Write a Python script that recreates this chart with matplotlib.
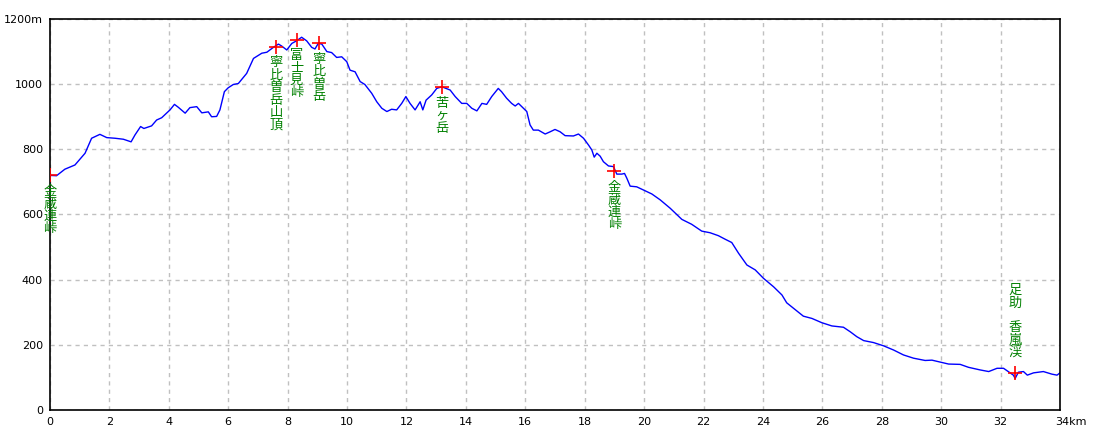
import matplotlib
matplotlib.use('Agg')
import matplotlib.pyplot as plt
from matplotlib.transforms import ScaledTranslation

plt.rcParams['font.family'] = ['Noto Sans CJK JP', 'DejaVu Sans']

# route profile (distance km, elevation m)
dist_km = [0.0, 0.22, 0.5, 0.84, 1.18, 1.4, 1.68, 1.91, 2.19, 2.47, 2.73, 2.86, 3.05, 3.16, 3.42,
           3.59, 3.76, 4.04, 4.19, 4.32, 4.55, 4.71, 4.94, 5.11, 5.33, 5.44, 5.61, 5.72, 5.87, 6.0,
           6.17, 6.34, 6.62, 6.85, 7.13, 7.3, 7.52, 7.69, 7.8, 7.97, 8.14, 8.3, 8.47, 8.64, 8.81,
           8.92, 9.03, 9.15, 9.32, 9.48, 9.65, 9.82, 9.99, 10.1, 10.27, 10.44, 10.6, 10.83, 11.0,
           11.17, 11.34, 11.5, 11.67, 11.84, 11.98, 12.12, 12.29, 12.46, 12.55, 12.66, 12.85, 13.02,
           13.19, 13.47, 13.64, 13.86, 14.03, 14.2, 14.37, 14.54, 14.7, 14.87, 15.09, 15.2, 15.37,
           15.54, 15.66, 15.77, 15.94, 16.05, 16.16, 16.27, 16.44, 16.67, 16.84, 17.0, 17.17, 17.34,
           17.62, 17.79, 17.96, 18.13, 18.24, 18.32, 18.41, 18.52, 18.63, 18.8, 18.97, 19.08, 19.25,
           19.34, 19.42, 19.53, 19.75, 19.98, 20.26, 20.54, 20.88, 21.27, 21.6, 21.94, 22.22, 22.5,
           22.73, 22.95, 23.18, 23.46, 23.74, 24.02, 24.36, 24.64, 24.8, 25.03, 25.36, 25.65, 25.98,
           26.32, 26.71, 26.94, 27.16, 27.39, 27.72, 28.06, 28.4, 28.73, 29.07, 29.46, 29.69, 29.97,
           30.25, 30.64, 30.92, 31.31, 31.6, 31.88, 32.1, 32.26, 32.43, 32.49, 32.6, 32.77, 32.9,
           33.11, 33.44, 33.73, 33.9, 34.0]
elev_m = [720, 719, 739, 752, 788, 834, 846, 836, 834, 831, 823, 844, 870, 864, 872,
          890, 897, 921, 938, 929, 911, 928, 931, 912, 915, 900, 901, 921, 977, 989,
          999, 1002, 1033, 1079, 1095, 1098, 1113, 1123, 1117, 1105, 1125, 1133, 1144, 1133, 1113,
          1108, 1125, 1123, 1100, 1097, 1082, 1084, 1069, 1043, 1038, 1008, 999, 972, 946,
          926, 916, 923, 921, 941, 962, 941, 921, 946, 921, 951, 967, 987,
          992, 982, 962, 941, 941, 926, 918, 941, 938, 962, 987, 977, 957,
          941, 933, 941, 926, 916, 875, 859, 859, 847, 854, 861, 854, 842,
          841, 847, 834, 813, 798, 776, 788, 779, 762, 749, 747, 724, 724,
          726, 711, 687, 685, 675, 663, 645, 619, 585, 570, 549, 544, 535,
          524, 514, 481, 445, 430, 404, 378, 353, 329, 312, 288, 281, 268,
          258, 254, 240, 225, 213, 207, 197, 184, 169, 159, 152, 153, 147,
          141, 140, 131, 123, 118, 128, 128, 118, 107, 97, 116, 118, 107,
          114, 118, 110, 107, 114]

# waypoints
wp_names = ['金蔵連峠', '寧比曽岳山頂', '富士見峠', '寧比曽岳', '苦ヶ岳', '金蔵連峠', '足助\u3000香嵐渓']
wp_km = [0.0, 7.6, 8.3, 9.05, 13.2, 19.0, 32.5]
wp_elev = [720, 1115, 1137, 1126, 991, 732, 114]

x_ticks = list(range(0, 35, 2))
x_labels = [str(t) for t in x_ticks[:-1]] + ['34km']
y_ticks = [0, 200, 400, 600, 800, 1000, 1200]
y_labels = ['0', '200', '400', '600', '800', '1000', '1200m']

fig = plt.figure(figsize=(11, 4.4), dpi=100)
ax = fig.add_axes([50 / 1100, 30 / 440, 1010 / 1100, 391 / 440])

ax.plot(dist_km, elev_m, color='#0000ff', lw=1)
ax.plot(wp_km, wp_elev, '+', color='#ff0000', ms=10, mew=1.2, zorder=5)

# vertical labels, one character at a time
pitch = 8.9  # points between characters
for name, x, y in zip(wp_names, wp_km, wp_elev):
    n = len(name)
    for i, ch in enumerate(name):
        if ch == '\u3000':
            continue
        if y < 300:
            # near the bottom: stack the label above the marker
            dy = 10 + (n - 1 - i) * pitch
            va = 'bottom'
        else:
            dy = -7 - i * pitch
            va = 'top'
        ax.annotate(ch, (x, y), xytext=(0, dy), textcoords='offset points',
                    ha='center', va=va, color='#008000', fontsize=9.5,
                    zorder=6, annotation_clip=False)

ax.set_xlim(0, 34)
ax.set_ylim(0, 1200)
ax.set_xticks(x_ticks)
ax.set_xticklabels(x_labels, fontsize=8, family='DejaVu Sans')
ax.set_yticks(y_ticks)
ax.set_yticklabels(y_labels, fontsize=8, family='DejaVu Sans')
ax.tick_params(length=0, pad=5)

# shift "34km" so the number sits on its tick
last = ax.get_xticklabels()[-1]
last.set_ha('left')
last.set_transform(last.get_transform() + ScaledTranslation(-5 / 100, 0, fig.dpi_scale_trans))

ax.grid(True, color='#c0c0c0', linestyle=(0, (3, 3)), lw=1)
ax.set_axisbelow(True)
for s in ax.spines.values():
    s.set_color('black')
    s.set_linewidth(1.2)

fig.savefig('out.png', dpi=100)
